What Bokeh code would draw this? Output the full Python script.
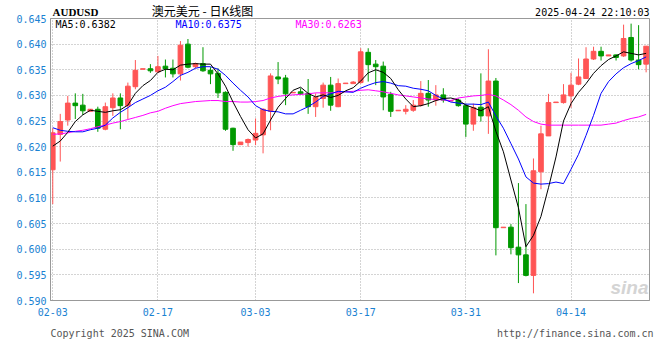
from bokeh.plotting import figure
from bokeh.models import Range1d, FixedTicker, ColumnDataSource, Label, PrintfTickFormatter, GridBox
from bokeh.embed import file_html
from bokeh.resources import INLINE

# ---- data (AUDUSD daily, 2025-02-03 .. 2025-04-24) ----
opens = [0.6155, 0.6224, 0.6252, 0.6285, 0.6281, 0.6269, 0.6273, 0.6234, 0.6276, 0.6295,
         0.6280, 0.6317, 0.6351, 0.6352, 0.6346, 0.6357, 0.6353, 0.6342, 0.6400, 0.6356,
         0.6362, 0.6349, 0.6343, 0.6306, 0.6236, 0.6204, 0.6208, 0.6213, 0.6223, 0.6269,
         0.6336, 0.6334, 0.6305, 0.6307, 0.6304, 0.6278, 0.6294, 0.6320, 0.6278, 0.6323,
         0.6323, 0.6325, 0.6384, 0.6361, 0.6357, 0.6302, 0.6270, 0.6269, 0.6271, 0.6281,
         0.6304, 0.6291, 0.6301, 0.6289, 0.6291, 0.6280, 0.6244, 0.6277, 0.6260, 0.6328,
         0.6042, 0.6043, 0.6004, 0.5989, 0.5949, 0.6151, 0.6221, 0.6286, 0.6286, 0.6299,
         0.6322, 0.6333, 0.6371, 0.6386, 0.6377, 0.6379, 0.6377, 0.6413, 0.6369, 0.6361]
highs = [0.6236, 0.6264, 0.6299, 0.6304, 0.6303, 0.6273, 0.6278, 0.6286, 0.6304, 0.6304,
         0.6325, 0.6369, 0.6352, 0.6361, 0.6377, 0.6370, 0.6370, 0.6406, 0.6410, 0.6364,
         0.6394, 0.6355, 0.6353, 0.6308, 0.6237, 0.6209, 0.6216, 0.6255, 0.6275, 0.6343,
         0.6365, 0.6340, 0.6306, 0.6314, 0.6332, 0.6304, 0.6325, 0.6336, 0.6333, 0.6324,
         0.6328, 0.6392, 0.6392, 0.6369, 0.6366, 0.6307, 0.6271, 0.6281, 0.6291, 0.6328,
         0.6330, 0.6320, 0.6314, 0.6290, 0.6294, 0.6284, 0.6284, 0.6343, 0.6390, 0.6334,
         0.6043, 0.6049, 0.6129, 0.6088, 0.6177, 0.6241, 0.6303, 0.6287, 0.6322, 0.6344,
         0.6372, 0.6394, 0.6395, 0.6395, 0.6379, 0.6380, 0.6438, 0.6440, 0.6437, 0.6396]
lows = [0.6088, 0.6171, 0.6241, 0.6254, 0.6262, 0.6269, 0.6229, 0.6232, 0.6260, 0.6234,
        0.6254, 0.6312, 0.6351, 0.6344, 0.6344, 0.6335, 0.6335, 0.6329, 0.6353, 0.6353,
        0.6346, 0.6322, 0.6295, 0.6231, 0.6192, 0.6204, 0.6200, 0.6203, 0.6187, 0.6232,
        0.6322, 0.6281, 0.6305, 0.6301, 0.6264, 0.6258, 0.6276, 0.6270, 0.6277, 0.6323,
        0.6323, 0.6323, 0.6327, 0.6320, 0.6271, 0.6258, 0.6270, 0.6263, 0.6268, 0.6278,
        0.6278, 0.6280, 0.6286, 0.6289, 0.6278, 0.6219, 0.6231, 0.6249, 0.6225, 0.5988,
        0.6042, 0.5990, 0.5934, 0.5947, 0.5914, 0.6117, 0.6221, 0.6286, 0.6284, 0.6276,
        0.6320, 0.6332, 0.6369, 0.6368, 0.6377, 0.6368, 0.6375, 0.6366, 0.6351, 0.6345]
closes = [0.6227, 0.6249, 0.6285, 0.6280, 0.6270, 0.6273, 0.6236, 0.6278, 0.6295, 0.6280,
          0.6318, 0.6349, 0.6352, 0.6348, 0.6356, 0.6352, 0.6342, 0.6398, 0.6355, 0.6362,
          0.6348, 0.6342, 0.6305, 0.6234, 0.6204, 0.6209, 0.6214, 0.6226, 0.6273, 0.6338,
          0.6332, 0.6303, 0.6306, 0.6303, 0.6278, 0.6296, 0.6320, 0.6281, 0.6323, 0.6324,
          0.6326, 0.6385, 0.6360, 0.6356, 0.6297, 0.6269, 0.6271, 0.6273, 0.6281, 0.6304,
          0.6291, 0.6301, 0.6291, 0.6290, 0.6280, 0.6244, 0.6276, 0.6260, 0.6328, 0.6042,
          0.6043, 0.6003, 0.5989, 0.5949, 0.6153, 0.6225, 0.6286, 0.6287, 0.6301, 0.6320,
          0.6336, 0.6371, 0.6386, 0.6377, 0.6379, 0.6374, 0.6411, 0.6369, 0.6360, 0.6396]
ma5 = [0.6201, 0.6211, 0.6228, 0.6249, 0.6262, 0.6271, 0.6269, 0.6267, 0.6270, 0.6272,
       0.6281, 0.6304, 0.6319, 0.6329, 0.6345, 0.6351, 0.6350, 0.6359, 0.6361, 0.6362,
       0.6361, 0.6361, 0.6342, 0.6318, 0.6287, 0.6259, 0.6233, 0.6217, 0.6225, 0.6252,
       0.6277, 0.6294, 0.6310, 0.6316, 0.6304, 0.6297, 0.6301, 0.6296, 0.6300, 0.6309,
       0.6315, 0.6328, 0.6344, 0.6350, 0.6345, 0.6333, 0.6311, 0.6293, 0.6278, 0.6280,
       0.6284, 0.6290, 0.6294, 0.6295, 0.6291, 0.6281, 0.6276, 0.6270, 0.6278, 0.6230,
       0.6190, 0.6135, 0.6081, 0.6005, 0.6027, 0.6064, 0.6120, 0.6180, 0.6250, 0.6284,
       0.6306, 0.6323, 0.6343, 0.6358, 0.6370, 0.6377, 0.6385, 0.6382, 0.6379, 0.6382]
ma10 = [0.6237, 0.6232, 0.6230, 0.6229, 0.6229, 0.6233, 0.6236, 0.6242, 0.6256, 0.6267,
        0.6276, 0.6286, 0.6293, 0.6300, 0.6309, 0.6316, 0.6327, 0.6339, 0.6345, 0.6353,
        0.6356, 0.6356, 0.6351, 0.6339, 0.6324, 0.6310, 0.6297, 0.6280, 0.6272, 0.6269,
        0.6268, 0.6264, 0.6264, 0.6271, 0.6278, 0.6287, 0.6298, 0.6303, 0.6308, 0.6307,
        0.6306, 0.6314, 0.6320, 0.6325, 0.6327, 0.6324, 0.6319, 0.6318, 0.6314, 0.6312,
        0.6309, 0.6300, 0.6293, 0.6287, 0.6285, 0.6283, 0.6283, 0.6282, 0.6287, 0.6260,
        0.6236, 0.6206, 0.6176, 0.6141, 0.6129, 0.6127, 0.6128, 0.6131, 0.6128, 0.6156,
        0.6185, 0.6222, 0.6261, 0.6304, 0.6327, 0.6342, 0.6354, 0.6362, 0.6368, 0.6375]
ma30 = [0.6224, 0.6225, 0.6227, 0.6230, 0.6232, 0.6235, 0.6239, 0.6242, 0.6246, 0.6249,
        0.6253, 0.6257, 0.6261, 0.6266, 0.6269, 0.6275, 0.6280, 0.6284, 0.6286, 0.6288,
        0.6289, 0.6290, 0.6290, 0.6288, 0.6288, 0.6287, 0.6287, 0.6288, 0.6290, 0.6295,
        0.6298, 0.6300, 0.6301, 0.6302, 0.6303, 0.6305, 0.6305, 0.6305, 0.6306, 0.6307,
        0.6308, 0.6310, 0.6311, 0.6309, 0.6307, 0.6304, 0.6301, 0.6299, 0.6297, 0.6295,
        0.6293, 0.6292, 0.6291, 0.6290, 0.6295, 0.6297, 0.6299, 0.6300, 0.6302, 0.6299,
        0.6291, 0.6282, 0.6271, 0.6258, 0.6249, 0.6244, 0.6242, 0.6242, 0.6242, 0.6242,
        0.6242, 0.6242, 0.6242, 0.6242, 0.6244, 0.6246, 0.6251, 0.6255, 0.6258, 0.6263]
tick_idx = [0, 14, 27, 41, 55, 69]
tick_labels = ["02-03", "02-17", "03-03", "03-17", "03-31", "04-14"]
y_ticks = [0.590, 0.595, 0.600, 0.605, 0.610, 0.615, 0.620, 0.625, 0.630, 0.635, 0.640, 0.645]

symbol = "AUDUSD"
title_text = "澳元美元 - 日K线图"
stamp = "2025-04-24 22:10:03"
copyright_text = "Copyright 2025 SINA.COM"
url_text = "http://finance.sina.com.cn"

UP, DOWN = "#ff5555", "#009900"
mono = "DejaVu Sans Mono"
axis_blue = "#1a82d2"

xs = list(range(len(closes)))
src = ColumnDataSource(dict(
    x=xs,
    high=highs,
    low=lows,
    top=[max(o, c) for o, c in zip(opens, closes)],
    bottom=[min(o, c) for o, c in zip(opens, closes)],
    color=[UP if c >= o else DOWN for o, c in zip(opens, closes)],
))

# ---------------- main chart ----------------
p = figure(width=660, height=360, x_range=Range1d(-0.3, 79.45), y_range=Range1d(0.590, 0.645),
           output_backend="svg", toolbar_location=None,
           min_border_left=50, min_border_right=11, min_border_top=18, min_border_bottom=60)
p.frame_align = False
p.background_fill_color = "white"
p.border_fill_color = "white"
p.outline_line_color = "#999999"
p.outline_line_width = 1

p.xaxis.ticker = FixedTicker(ticks=tick_idx)
p.xaxis.major_label_overrides = {i: lab for i, lab in zip(tick_idx, tick_labels)}
p.yaxis.ticker = FixedTicker(ticks=y_ticks)
p.yaxis.formatter = PrintfTickFormatter(format="%.3f")
for ax in (p.xaxis, p.yaxis):
    ax.axis_line_color = "#999999"
    ax.major_tick_line_color = None
    ax.minor_tick_line_color = None
    ax.major_tick_in = 0
    ax.major_tick_out = 0
    ax.major_label_text_font = mono
    ax.major_label_text_font_size = "10px"
    ax.major_label_text_color = axis_blue
p.yaxis.major_label_standoff = 4
p.xaxis.major_label_standoff = 7

p.xgrid.ticker = FixedTicker(ticks=tick_idx)
p.ygrid.ticker = FixedTicker(ticks=y_ticks)
for g in (p.xgrid, p.ygrid):
    g.grid_line_color = "#a8a8a8"
    g.grid_line_dash = "1 2"
    g.grid_line_width = 1

p.segment(x0="x", y0="high", x1="x", y1="low", line_color="color", line_width=1, source=src)
p.vbar(x="x", width=0.62, top="top", bottom="bottom", fill_color="color", line_color="color",
       line_width=1, source=src)

p.line(xs, ma30, line_color="#ff00ff", line_width=1)
p.line(xs, ma10, line_color="#0000ff", line_width=1)
p.line(xs, ma5, line_color="#000000", line_width=1)

def frame_label(text, x, y, color, font=mono, size="10px", align="left", style="normal"):
    p.add_layout(Label(x=x, y=y, x_units="screen", y_units="screen", text=text,
                       text_font=font, text_font_size=size, text_color=color,
                       text_align=align, text_baseline="middle", text_font_style=style))

frame_label("MA5:%.4f" % ma5[-1], 5, 276, "#000000")
frame_label("MA10:%.4f" % ma10[-1], 125, 276, "#0000ff")
frame_label("MA30:%.4f" % ma30[-1], 245, 276, "#ff00ff")
frame_label("sina", 598, 13, "#d4d4d4", font="Liberation Sans", size="19px", align="right",
            style="bold italic")

# ---------------- header / footer texts (transparent overlay canvas) ----------------
t = figure(width=660, height=360, x_range=Range1d(0, 660), y_range=Range1d(360, 0),
           output_backend="svg", toolbar_location=None, x_axis_type=None, y_axis_type=None,
           min_border=0, min_border_left=0, min_border_right=0, min_border_top=0, min_border_bottom=0)
t.frame_align = False
t.background_fill_color = None
t.border_fill_color = None
t.outline_line_color = None
t.grid.visible = False

def page_label(text, x, y, color, font=mono, size="10px", align="left", style="normal"):
    t.add_layout(Label(x=x, y=y, text=text, text_font=font, text_font_size=size,
                       text_color=color, text_align=align, text_baseline="middle",
                       text_font_style=style))

page_label(symbol, 52, 11.5, "#000000", font="Liberation Serif", size="11px", style="bold")
page_label(title_text, 202, 9.5, "#000000", font="Noto Sans CJK SC", size="12px", align="center")
page_label(stamp, 649, 11.5, "#000000", align="right")
page_label(copyright_text, 50, 333, "#555555")
page_label(url_text, 653, 333, "#555555", align="right")

layout = GridBox(children=[(p, 0, 0), (t, 0, 0)])

open("out.html", "w").write(file_html(layout, INLINE))
